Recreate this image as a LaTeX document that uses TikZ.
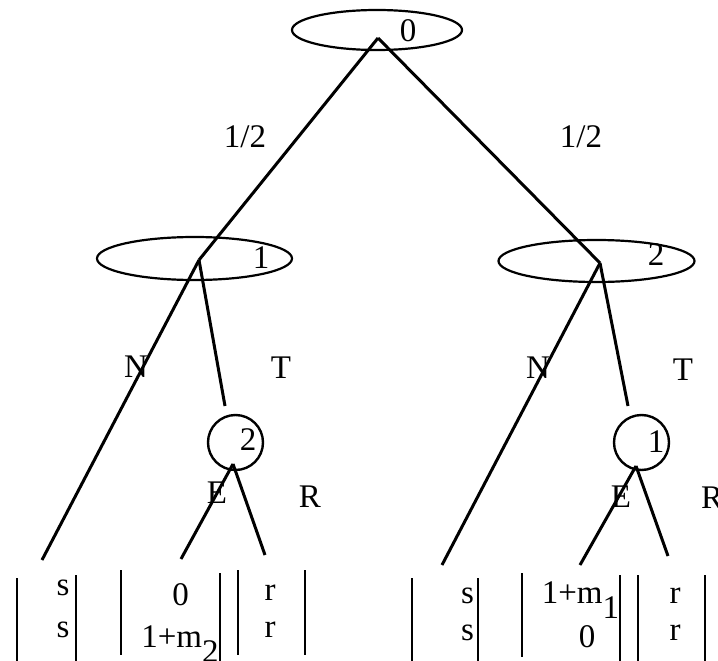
\documentclass[tikz,border=0pt]{standalone}
\usepackage{fontspec}
\setmainfont{Liberation Serif}
\usetikzlibrary{shapes.geometric}
\newcommand{\lowsub}[1]{\raisebox{-15pt}{#1}}
\tikzset{
  lbl/.style={font=\fontsize{33}{38}\selectfont, inner sep=0pt, anchor=base},
  infoset/.style={draw, ellipse, line width=2.2pt, inner sep=0pt},
  chance/.style={draw, circle, line width=2.4pt, inner sep=0pt, minimum size=55pt},
  edge/.style={line width=3pt},
  bar/.style={line width=2.6pt}
}
\begin{document}
\begin{tikzpicture}[x=1pt,y=-1pt]
\useasboundingbox (0,0) rectangle (718,661);
% information sets
\node[infoset, minimum width=170pt, minimum height=40pt] (e0) at (377,30) {};
\node[infoset, minimum width=195pt, minimum height=43pt] (e1) at (194.5,258.5) {};
\node[infoset, minimum width=196pt, minimum height=42pt] (e2) at (596.5,261) {};
\node[chance] (c2) at (235.5,442.5) {};
\node[chance] (c1) at (641.5,442.5) {};
% node labels
\node[lbl] (t0) at (408,42) {0};
\node[lbl] (t1) at (261,268) {1};
\node[lbl] (t2) at (656,265) {2};
\node[lbl] (tc2) at (248,450) {2};
\node[lbl] (tc1) at (656,452) {1};
% branch points
\coordinate (root) at (378,38);
\coordinate (n1) at (199,260);
\coordinate (n2) at (600,263);
\coordinate (c2in) at (225,406);
\coordinate (c2out) at (233,464);
\coordinate (c1in) at (628,406);
\coordinate (c1out) at (636,466);
\coordinate (lN1) at (42,560);
\coordinate (lE2) at (181,559);
\coordinate (lR2) at (265,555);
\coordinate (lN2) at (442,565);
\coordinate (lE1) at (580,565);
\coordinate (lR1) at (668,556);
% edges
\draw[edge] (root) -- (n1);
\draw[edge] (root) -- (n2);
\draw[edge] (n1) -- (lN1);
\draw[edge] (n1) -- (c2in);
\draw[edge] (c2out) -- (lE2);
\draw[edge] (c2out) -- (lR2);
\draw[edge] (n2) -- (lN2);
\draw[edge] (n2) -- (c1in);
\draw[edge] (c1out) -- (lE1);
\draw[edge] (c1out) -- (lR1);
% edge labels
\node[lbl] (p1) at (245,147) {1/2};
\node[lbl] (p2) at (581,147) {1/2};
\node[lbl] (aN1) at (136,377) {N};
\node[lbl] (aT1) at (281,378) {T};
\node[lbl] (aN2) at (538,378) {N};
\node[lbl] (aT2) at (683,380) {T};
\node[lbl] (aE2) at (217,503) {E};
\node[lbl] (aR2) at (310,507) {R};
\node[lbl] (aE1) at (621,507) {E};
\node[lbl] (aR1) at (712,508) {R};
% payoff bars, left
\draw[bar] (17,578) -- (17,661);
\draw[bar] (76,575) -- (76,661);
\draw[bar] (121,570) -- (121,655);
\draw[bar] (220,573) -- (220,661);
\draw[bar] (238,570) -- (238,655);
\draw[bar] (305,570) -- (305,655);
% payoff bars, right
\draw[bar] (412,578) -- (412,661);
\draw[bar] (478,578) -- (478,661);
\draw[bar] (522,573) -- (522,657);
\draw[bar] (620,575) -- (620,661);
\draw[bar] (638,575) -- (638,661);
\draw[bar] (705,575) -- (705,661);
% payoffs, left
\node[lbl] (s1a) at (63,595) {s};
\node[lbl] (s1b) at (63,637) {s};
\node[lbl] (z1a) at (180.5,605) {0};
\node[lbl] (z1b) at (180,647) {1+m\lowsub{2}};
\node[lbl] (r1a) at (270,600) {r};
\node[lbl] (r1b) at (270,637) {r};
% payoffs, right
\node[lbl] (s2a) at (467.5,603) {s};
\node[lbl] (s2b) at (467.5,640) {s};
\node[lbl] (z2a) at (580.5,603) {1+m\lowsub{1}};
\node[lbl] (z2b) at (587,647) {0};
\node[lbl] (r2a) at (675,603) {r};
\node[lbl] (r2b) at (675,640) {r};
\end{tikzpicture}
\end{document}
